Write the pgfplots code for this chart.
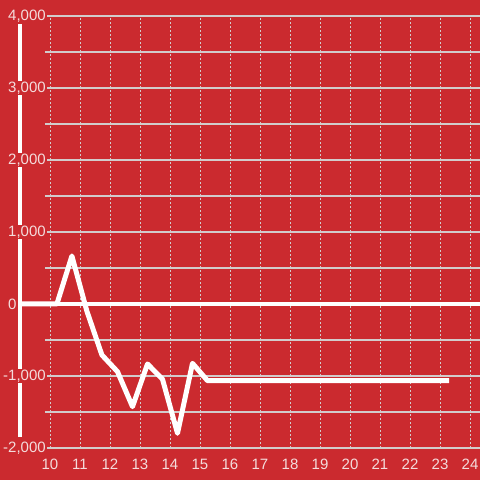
\documentclass[border=0pt]{standalone}
\usepackage{fontspec}
\setmainfont{Liberation Sans}
\usepackage{pgfplots}
\pgfplotsset{compat=1.18}
\usetikzlibrary{backgrounds}
\definecolor{bgred}{HTML}{CB2A2F}
\definecolor{gridc}{HTML}{D2CCCC}
\definecolor{labelc}{HTML}{F4DCDC}
\newcommand{\lbl}{\fontsize{15}{17}\selectfont}

\begin{document}
\begin{tikzpicture}
\begin{axis}[
  scale only axis,
  width=435pt, height=432pt,
  xmin=9.8333, xmax=24.3333,
  ymin=-2000, ymax=4000,
  xtick={10,...,24},
  ytick={-2000,-1000,...,4000},
  yticklabels={{\llap{-}2,000}, {\llap{-}1,000}, {0}, {1,000}, {2,000}, {3,000}, {4,000}},
  minor ytick={-1500,-500,...,3500},
  xmajorgrids, ymajorgrids, yminorgrids,
  major x grid style={gridc, line width=1pt, dash pattern=on 2pt off 2pt},
  major y grid style={gridc, line width=1.2pt},
  minor y grid style={gridc, line width=1.2pt},
  axis line style={draw=none},
  major tick length=0pt, minor tick length=0pt,
  clip=false,
  /pgf/number format/assume math mode=true,
  xticklabel style={font=\lbl, text=labelc, anchor=north, yshift=-8pt},
  yticklabel style={font=\lbl, text=labelc, fill=bgred, inner sep=1pt, anchor=west, xshift=-38pt},
]
\coordinate (ya) at (axis cs:9,-1850);
\coordinate (yb) at (axis cs:9,3890);
\draw[white, line width=3.5pt] (axis cs:9,0) -- (axis cs:24.3333,0);
\addplot[white, line width=5pt, line join=round, mark=none] coordinates {
  (9,0) (10.23,0) (10.73,667) (11.23,-100) (11.73,-708) (12.25,-940)
  (12.75,-1426) (13.25,-833) (13.75,-1045) (14.25,-1796) (14.75,-824)
  (15.25,-1065) (23.3,-1065)
};
\end{axis}
\begin{scope}[on background layer]
\fill[bgred] ([shift={(-45pt,-32pt)}]current axis.south west) rectangle ([shift={(0pt,16pt)}]current axis.north east);
\draw[white, line width=3.5pt] (ya) -- (yb);
\end{scope}
\pgfresetboundingbox
\useasboundingbox ([shift={(-45pt,-32pt)}]current axis.south west) rectangle ([shift={(0pt,16pt)}]current axis.north east);
\end{tikzpicture}
\end{document}
